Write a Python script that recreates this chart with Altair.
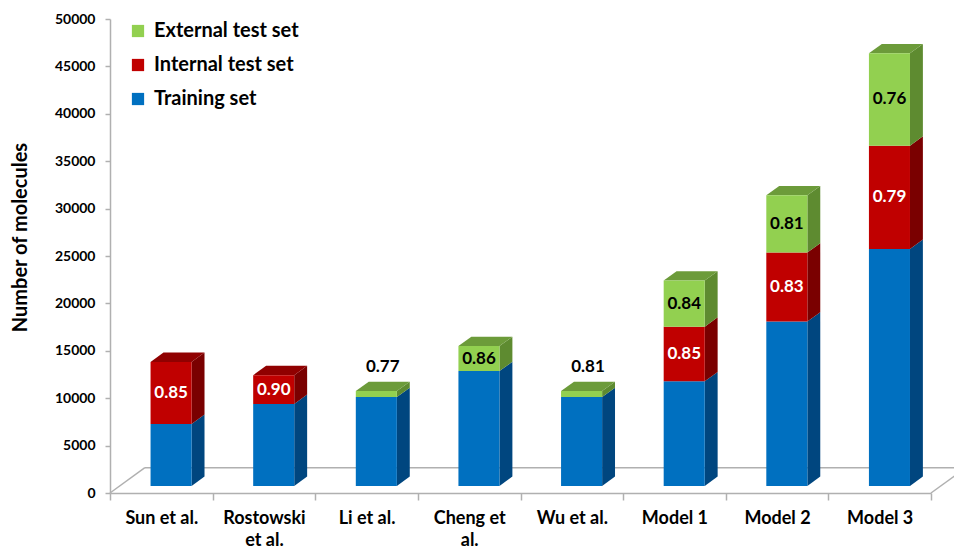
import json
import altair as alt
import pandas as pd

# ---- data -------------------------------------------------------------
categories = ["Sun et al.", "Rostowski\net al.", "Li et al.", "Cheng et\nal.",
              "Wu et al.", "Model 1", "Model 2", "Model 3"]
training = [6540, 8650, 9370, 12110, 9370, 11040, 17330, 25000]
internal = [6540, 3030, 0, 0, 0, 5760, 7280, 10890]
external = [0, 0, 630, 2640, 630, 4860, 6050, 9750]
internal_r2 = ["0.85", "0.90", None, None, None, "0.85", "0.83", "0.79"]
external_r2 = [None, None, "0.77", "0.86", "0.81", "0.84", "0.81", "0.76"]

series = ["Training set", "Internal test set", "External test set"]
front_colors = ["#0070C0", "#C00000", "#92D050"]
side_colors = ["#00467F", "#7A0000", "#5E8B30"]
top_colors = ["#0059A0", "#900000", "#6C9B3A"]
label_colors = ["white", "white", "black"]

FONT = "Lato"
AXIS_GREY = "#B0B0B0"

# ---- oblique projection of the 3-D columns ----------------------------
N = len(categories)
FLOOR_DX, FLOOR_DY = 0.34, 2670      # full floor depth, in (category units, molecules)
FRONT_D, BACK_D = 0.28, 0.65         # depth range occupied by the columns
BAR_W = 0.40
SIDE_DX = (BACK_D - FRONT_D) * FLOOR_DX
SIDE_DY = (BACK_D - FRONT_D) * FLOOR_DY
LIFT = FRONT_D * FLOOR_DY

fronts, polys, inside, above = [], [], [], []
for i, cat in enumerate(categories):
    xl = i + 0.5 - BAR_W / 2 + FRONT_D * FLOOR_DX
    xr = xl + BAR_W
    stack = [training[i], internal[i], external[i]]
    r2 = [None, internal_r2[i], external_r2[i]]
    top_k = max(k for k, v in enumerate(stack) if v > 0)
    base = 0
    for k, v in enumerate(stack):
        if v <= 0:
            continue
        lo, hi = base + LIFT, base + v + LIFT
        fronts.append(dict(x=xl, x2=xr, y=lo, y2=hi, series=series[k]))
        pid = f"{i}-{k}-side"
        polys += [
            dict(pid=pid, x=xr, y=lo, y2=hi, fill=side_colors[k]),
            dict(pid=pid, x=xr + SIDE_DX, y=lo + SIDE_DY, y2=hi + SIDE_DY, fill=side_colors[k]),
        ]
        if k == top_k:
            pid = f"{i}-{k}-top"
            polys += [
                dict(pid=pid, x=xl, y=hi, y2=hi, fill=top_colors[k]),
                dict(pid=pid, x=xl + SIDE_DX, y=hi, y2=hi + SIDE_DY, fill=top_colors[k]),
                dict(pid=pid, x=xr, y=hi, y2=hi + SIDE_DY, fill=top_colors[k]),
                dict(pid=pid, x=xr + SIDE_DX, y=hi + SIDE_DY, y2=hi + SIDE_DY, fill=top_colors[k]),
            ]
        if r2[k]:
            if v >= 2000:
                inside.append(dict(x=(xl + xr) / 2, y=(lo + hi) / 2, text=r2[k], c=label_colors[k]))
            else:
                above.append(dict(x=(xl + xr) / 2 + SIDE_DX / 2, y=hi + SIDE_DY, text=r2[k]))
        base += v

fronts = pd.DataFrame(fronts)
polys = pd.DataFrame(polys)
inside = pd.DataFrame(inside)
above = pd.DataFrame(above)

floor = pd.DataFrame([
    dict(x=0, y=0, x2=FLOOR_DX, y2=FLOOR_DY),
    dict(x=FLOOR_DX, y=FLOOR_DY, x2=N + FLOOR_DX, y2=FLOOR_DY),
    dict(x=N, y=0, x2=N + FLOOR_DX, y2=FLOOR_DY),
])

# ---- scales & axes ----------------------------------------------------
xs = alt.Scale(domain=[0, N], nice=False, zero=False)
ys = alt.Scale(domain=[0, 50000], nice=False)

names_js = json.dumps(categories)
x_axis = alt.Axis(
    values=[v / 2 for v in range(2 * N + 1)],
    labelExpr=f"datum.value % 1 === 0 ? '' : split({names_js}[floor(datum.value)], '\\n')",
    tickOpacity={"condition": {"test": "datum.value % 1 !== 0", "value": 0}, "value": 1},
    title=None, grid=False, tickSize=7, labelPadding=9, labelOverlap=False,
    labelFlush=False, labelBound=False, labelLineHeight=22,
    labelFont=FONT, labelFontSize=18, labelFontWeight="bold", labelColor="black",
    domainColor=AXIS_GREY, tickColor=AXIS_GREY, domainWidth=1.5, tickWidth=1.5,
)
y_axis = alt.Axis(
    values=list(range(0, 50001, 5000)), format="d", grid=False,
    title="Number of molecules", titleFont=FONT, titleFontSize=20, titleFontWeight="bold",
    titleColor="black", titlePadding=24, titleY=218,
    labelFont=FONT, labelFontSize=14, labelFontWeight="bold", labelColor="black",
    labelPadding=10, tickSize=5, domainColor=AXIS_GREY, tickColor=AXIS_GREY,
    domainWidth=1.5, tickWidth=1.5,
)

floor_layer = alt.Chart(floor).mark_rule(color=AXIS_GREY, strokeWidth=1.5).encode(
    x=alt.X("x:Q", scale=xs, axis=x_axis), x2="x2:Q",
    y=alt.Y("y:Q", scale=ys, axis=y_axis), y2="y2:Q",
)

face_layer = alt.Chart(polys).mark_area(interpolate="linear").encode(
    x=alt.X("x:Q", scale=xs), y=alt.Y("y:Q", scale=ys), y2="y2:Q",
    detail="pid:N", fill=alt.Fill("fill:N", scale=None, legend=None),
)

legend_order = ["External test set", "Internal test set", "Training set"]
front_layer = alt.Chart(fronts).mark_rect().encode(
    x=alt.X("x:Q", scale=xs), x2="x2:Q",
    y=alt.Y("y:Q", scale=ys), y2="y2:Q",
    color=alt.Color(
        "series:N",
        scale=alt.Scale(domain=legend_order, range=[front_colors[2], front_colors[1], front_colors[0]]),
        legend=alt.Legend(
            title=None, orient="none", legendX=18, legendY=2, symbolType="square",
            symbolSize=150, symbolStrokeWidth=0, labelFont=FONT, labelFontSize=20,
            labelFontWeight="bold", labelColor="black", rowPadding=14, labelOffset=6,
        ),
    ),
)

inside_layer = alt.Chart(inside).mark_text(
    font=FONT, fontSize=17, fontWeight="bold", baseline="middle"
).encode(
    x=alt.X("x:Q", scale=xs), y=alt.Y("y:Q", scale=ys),
    text="text:N", stroke=alt.value(None), fill=alt.Fill("c:N", scale=None, legend=None),
)

above_layer = alt.Chart(above).mark_text(
    font=FONT, fontSize=17, fontWeight="bold", baseline="bottom", dy=-6, color="black"
).encode(
    x=alt.X("x:Q", scale=xs), y=alt.Y("y:Q", scale=ys), text="text:N",
)

chart = alt.layer(
    floor_layer, face_layer, front_layer, inside_layer, above_layer
).resolve_scale(
    color="independent", fill="independent"
).properties(
    width=821, height=474,
    background="white",
    autosize=alt.AutoSizeParams(type="none"),
    padding={"left": 110, "top": 19, "right": 23, "bottom": 54},
).configure_view(stroke=None)

chart.save("out.html", embed_options={"renderer": "svg", "actions": False})
